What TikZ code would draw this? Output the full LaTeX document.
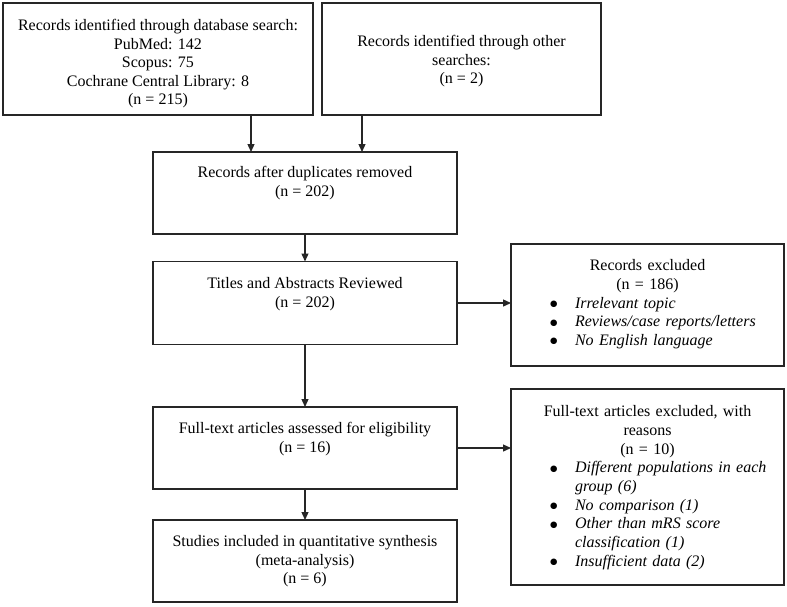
\documentclass[tikz,border=0pt]{standalone}
\usepackage{fontspec}
\setmainfont{Liberation Serif}
\newfontfamily\dejavu{DejaVu Sans}
\usetikzlibrary{arrows.meta}
\newcommand{\bigbul}{\raisebox{1.5pt}{\fontsize{8.5}{8.5}\selectfont\dejavu ●}}
\newcommand{\bulitem}[1]{\hspace*{39pt}\makebox[25pt][l]{\bigbul}\textit{#1}}
\newcommand{\contitem}[1]{\hspace*{64pt}\textit{#1}}
\begin{document}
\begin{tikzpicture}[x=1pt,y=-1pt,
  box/.style={draw=black!85, line width=1.3pt, inner sep=0pt, outer sep=0pt, fill=white},
  txt/.style={inner sep=0pt, outer sep=0pt, align=center, font=\fontsize{16}{18.5}\selectfont},
  lst/.style={inner sep=0pt, outer sep=0pt, align=left, text width=273pt, font=\fontsize{16}{18.7}\selectfont},
  arr/.style={draw=black!85, line width=1.3pt, -{Triangle[length=8pt,width=7pt]}}]
\useasboundingbox (0,0) rectangle (787,606);
% boxes
\node[box, minimum width=310pt, minimum height=112pt] (b1) at (158,59) {};
\node[box, minimum width=279pt, minimum height=112pt] (b2) at (461.5,59) {};
\node[box, minimum width=304pt, minimum height=82pt] (b3) at (305,193) {};
\node[box, minimum width=304pt, minimum height=83pt] (b4) at (305,303) {};
\node[box, minimum width=273pt, minimum height=122pt] (rex) at (647.5,305) {};
\node[box, minimum width=304pt, minimum height=82pt] (b5) at (305,448) {};
\node[box, minimum width=273pt, minimum height=196pt] (fex) at (647.5,487) {};
\node[box, minimum width=304pt, minimum height=82pt] (b6) at (305,561) {};
% texts
\node[txt, anchor=north] (t1) at (158,19.5) {Records identified through database search:\\PubMed: 142\\Scopus: 75\\Cochrane Central Library: 8\\(n = 215)};
\node[txt, anchor=north] (t2) at (461.5,35.5) {Records identified through other\\searches:\\(n = 2)};
\node[txt, anchor=north] (t3) at (305,166.5) {Records after duplicates removed\\(n = 202)};
\node[txt, anchor=north] (t4) at (305,277.5) {Titles and Abstracts Reviewed\\(n = 202)};
\node[txt, anchor=north] (t5) at (305,422.5) {Full-text articles assessed for eligibility\\(n = 16)};
\node[txt, anchor=north] (t6) at (305,535.5) {Studies included in quantitative synthesis\\(meta-analysis)\\(n = 6)};
\node[lst, anchor=north west] (trex) at (511,259.5) {\makebox[273pt][c]{Records excluded}\\
\makebox[273pt][c]{(n = 186)}\\
\bulitem{Irrelevant topic}\\
\bulitem{Reviews/case reports/letters}\\
\bulitem{No English language}};
\node[lst, anchor=north west] (tfex) at (511,405.5) {\makebox[273pt][c]{Full-text articles excluded, with}\\
\makebox[273pt][c]{reasons}\\
\makebox[273pt][c]{(n = 10)}\\
\bulitem{Different populations in each}\\
\contitem{group (6)}\\
\bulitem{No comparison (1)}\\
\bulitem{Other than mRS score}\\
\contitem{classification (1)}\\
\bulitem{Insufficient data (2)}};
% connectors
\coordinate (c1) at (251,0);
\coordinate (c2) at (362,0);
\coordinate (h1) at (0,303);
\draw[arr] (b1.south -| c1) -- (b3.north -| c1);
\draw[arr] (b2.south -| c2) -- (b3.north -| c2);
\draw[arr] (b3.south) -- (b4.north);
\draw[arr] (b4.south) -- (b5.north);
\draw[arr] (b5.south) -- (b6.north);
\draw[arr] (b4.east |- h1) -- (rex.west |- h1);
\draw[arr] (b5.east) -- (fex.west |- b5.east);
\end{tikzpicture}
\end{document}
